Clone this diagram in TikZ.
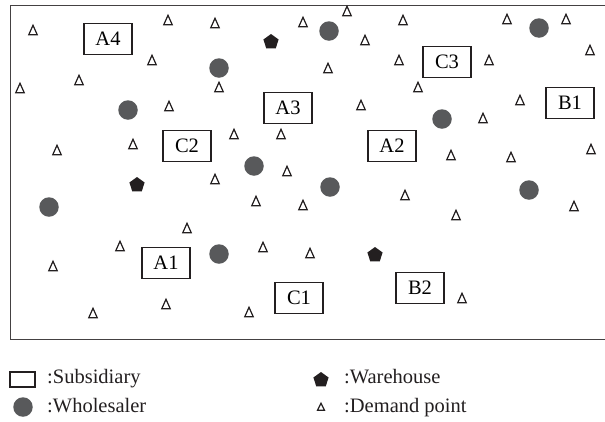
\documentclass[tikz,border=0pt]{standalone}
\usepackage{fontspec}
\setmainfont{Liberation Serif}
\usetikzlibrary{shapes.geometric}
\definecolor{ink}{RGB}{35,31,32}
\definecolor{dotgray}{RGB}{88,89,91}
\begin{document}
\begin{tikzpicture}[x=1pt,y=-1pt,
  every node/.style={font=\fontsize{20.5}{24}\selectfont},
  sub/.style={draw=ink,line width=1.2pt,minimum width=48pt,minimum height=31pt,inner sep=0pt},
  whs/.style={circle,fill=dotgray,minimum size=19.5pt,inner sep=0pt},
  ware/.style={regular polygon,regular polygon sides=5,fill=ink,minimum size=16pt,inner sep=0pt},
  dem/.style={isosceles triangle,shape border rotate=90,isosceles triangle stretches,draw=ink,line width=1.2pt,minimum width=8.5pt,minimum height=9.5pt,inner sep=0pt},
  lbl/.style={anchor=base west,inner sep=0pt,text=ink}]
\useasboundingbox (0,0) rectangle (605,421);
\draw[ink!85,line width=1.5pt] (10.5,5.5) rectangle (615,339.5);
% subsidiaries
\node[sub] (a4) at (108,39) {A4};
\node[sub] (a3) at (288,108) {A3};
\node[sub] (c2) at (187,146) {C2};
\node[sub] (c3) at (447,62) {C3};
\node[sub] (b1) at (570,103) {B1};
\node[sub] (a2) at (392,146) {A2};
\node[sub] (a1) at (166,263) {A1};
\node[sub] (c1) at (299,298) {C1};
\node[sub] (b2) at (420,288) {B2};
% wholesalers and warehouses
\foreach \x/\y [count=\i] in {329/31,539/28,219/68,128/110,442/119,254/166,330/187,529/190,49/207,219/254}
  \node[whs] (w\i) at (\x,\y) {};
\foreach \x/\y [count=\i] in {271/42,137/185,375/255}
  \node[ware] (h\i) at (\x,\y) {};
% demand points
\foreach \x/\y [count=\i] in {33/32,168/22,215/25,303/24,347/13,403/22,507/21,566/21,
  152/62,79/82,20/90,219/89,169/108,365/42,328/70,399/62,489/62,590/52,418/89,361/107,
  520/102,483/120,591/151,451/157,511/159,57/152,133/146,234/136,281/136,287/173,215/181,
  256/203,303/207,405/197,456/217,574/208,187/230,120/248,263/249,310/255,53/268,166/306,
  93/315,249/314,462/300}
  \node[dem] (d\i) at (\x,\y) {};
% legend
\node[sub,minimum width=25pt,minimum height=15pt] (lsub) at (22.5,379.5) {};
\node[lbl] (tsub) at (47,383) {:Subsidiary};
\node[whs] (lwhs) at (23,407) {};
\node[lbl] (twhs) at (47,412) {:Wholesaler};
\node[ware] (lware) at (321,380) {};
\node[lbl] (tware) at (344,383) {:Warehouse};
\node[dem,minimum width=7pt,minimum height=7pt] (ldem) at (321,408) {};
\node[lbl] (tdem) at (344,412) {:Demand point};
\end{tikzpicture}
\end{document}
